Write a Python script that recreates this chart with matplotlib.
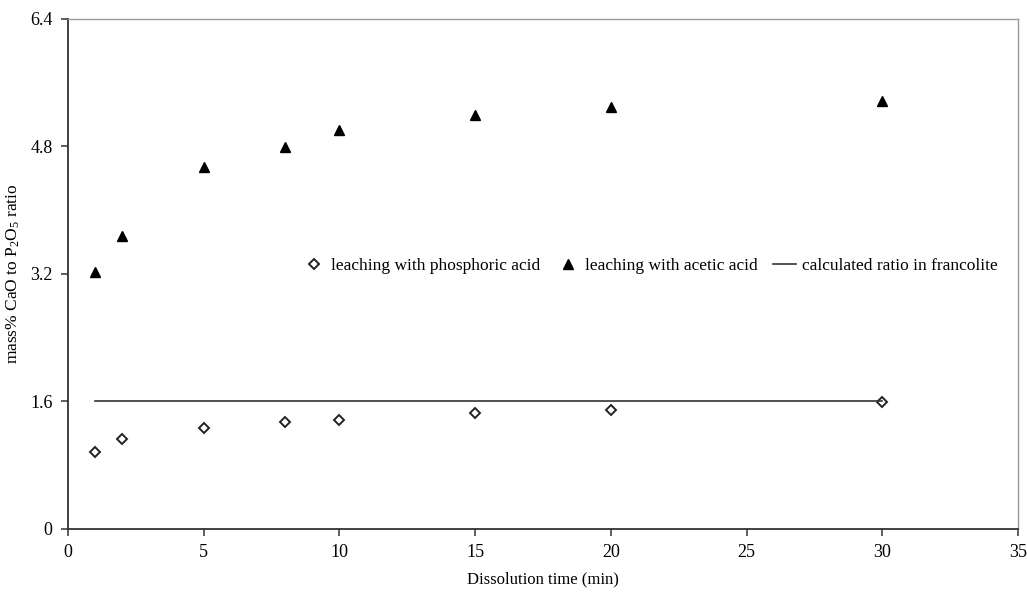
import numpy as np
import matplotlib.pyplot as plt

plt.rcParams['font.family'] = ['Liberation Serif', 'DejaVu Serif']
plt.rcParams['mathtext.fontset'] = 'custom'
plt.rcParams['mathtext.rm'] = 'Liberation Serif'
plt.rcParams['mathtext.it'] = 'Liberation Serif:italic'

# dissolution times (min)
time_min = [1, 2, 5, 8, 10, 15, 20, 30]
# CaO / P2O5 ratio in leachate
phosphoric = [0.97, 1.13, 1.27, 1.34, 1.37, 1.46, 1.49, 1.59]
acetic = [3.22, 3.68, 4.54, 4.79, 5.01, 5.20, 5.29, 5.37]
# ratio for francolite
francolite = 1.6

fig = plt.figure(figsize=(10.27, 5.93), dpi=100)
ax = fig.add_axes([0.0662, 0.108, 0.925, 0.860])

ax.plot(time_min, phosphoric, linestyle='none', marker='D', markersize=5,
        markerfacecolor='white', markeredgecolor='#222222', markeredgewidth=1.4,
        label='leaching with phosphoric acid')
ax.plot(time_min, acetic, linestyle='none', marker='^', markersize=7,
        color='black', label='leaching with acetic acid')
ax.plot([time_min[0], time_min[-1]], [francolite, francolite], color='#333333',
        linewidth=1.2, label='calculated ratio in francolite')

ax.set_xlim(0, 35)
ax.set_ylim(0, 6.4)
ax.set_xticks(np.arange(0, 36, 5))
ax.set_yticks([0, 1.6, 3.2, 4.8, 6.4])
ax.set_yticklabels(['0', '1.6', '3.2', '4.8', '6.4'])

for s in ['left', 'bottom']:
    ax.spines[s].set_color('#333333')
    ax.spines[s].set_linewidth(1.3)
for s in ['top', 'right']:
    ax.spines[s].set_color('#999999')
    ax.spines[s].set_linewidth(1.0)

ax.tick_params(axis='both', direction='out', length=5, width=1.1, color='#333333',
               labelsize=13, pad=6)

ax.set_xlabel('Dissolution time (min)', fontsize=12, labelpad=7)
ax.set_ylabel('mass% CaO to P$_2$O$_5$ ratio', fontsize=12.5, labelpad=6)

ax.legend(loc='center left', bbox_to_anchor=(0.238, 0.516), ncol=3, frameon=False,
          fontsize=12.5, handlelength=1.3, handletextpad=0.35, columnspacing=0.9,
          borderpad=0)

fig.savefig('out.png', dpi=100)
